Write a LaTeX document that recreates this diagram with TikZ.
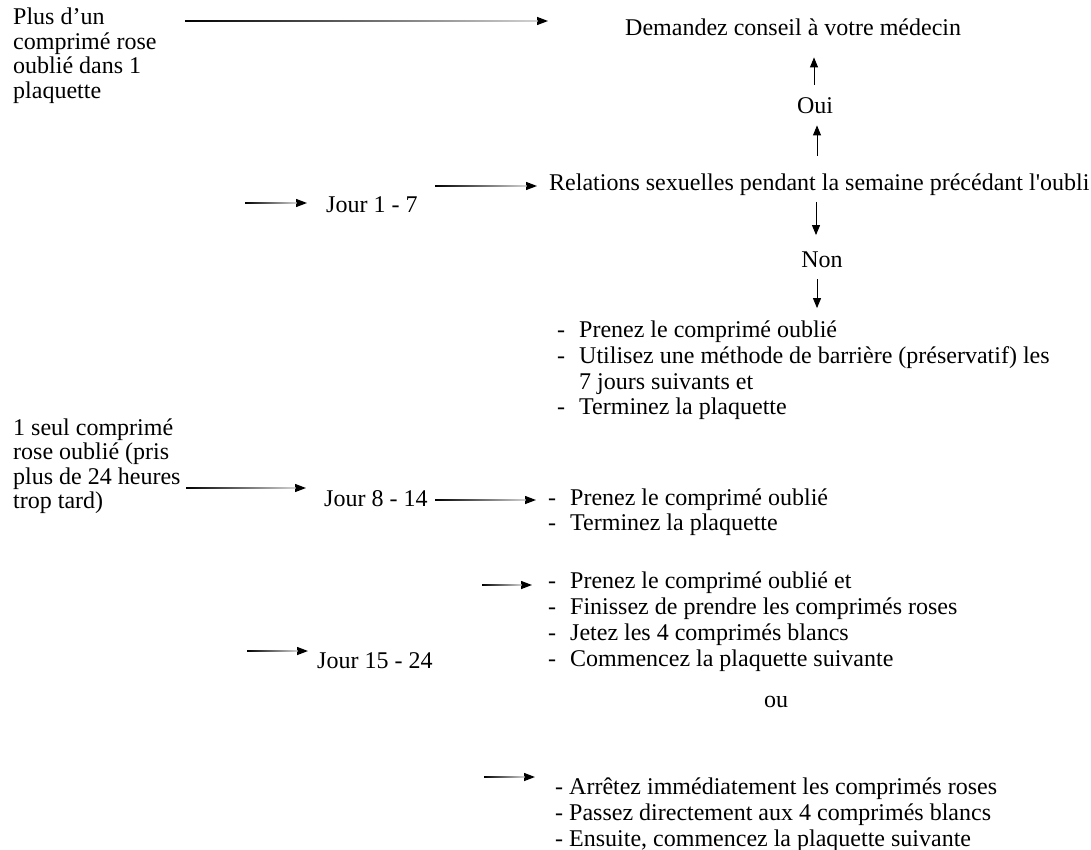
\documentclass[tikz,border=0pt]{standalone}
\usepackage{fontspec}
\setmainfont{Liberation Serif}[Ligatures=TeXOff]
\usetikzlibrary{arrows.meta,calc}
\begin{document}
\begin{tikzpicture}[x=1pt,y=-1pt,
  txt/.style={anchor=base west, inner sep=0pt, font=\fontsize{24}{27}\selectfont},
  ctxt/.style={anchor=base, inner sep=0pt, font=\fontsize{24}{27}\selectfont},
  harrow/.style={-{Triangle[length=11pt,width=8pt]}, line width=1.3pt},
  fadeline/.style={left color=black, middle color=black, right color=black!18},
  varrow/.style={-{Triangle[length=10pt,width=8pt]}, line width=0.9pt}]
\newcommand{\dsh}{\makebox[22pt][l]{-}}
\newcommand{\harr}[2]{%
  \draw[harrow] (#1) -- (#2);
  \shade[fadeline] ($(#1)+(0,-0.65)$) rectangle ($(#2)+(-10.5,0.65)$);}
\fill[white] (0,0) rectangle (1091,850);
\useasboundingbox (0,0) rectangle (1091,850);
% left block 1
\node[txt] (b1a) at (13,25) {Plus d’un};
\node[txt] (b1b) at (13,49.5) {comprimé rose};
\node[txt] (b1c) at (13,74) {oublié dans 1};
\node[txt] (b1d) at (13,98.5) {plaquette};
% top right column
\node[txt] (med) at (625,36) {Demandez conseil à votre médecin};
\node[ctxt] (oui) at (815,114) {Oui};
\node[txt] (rel) at (549,191) {Relations sexuelles pendant la semaine précédant l'oubli};
\node[ctxt] (non) at (822,267) {Non};
\node[txt] (j17) at (326,213) {Jour 1 - 7};
% list 1
\node[txt] (l1a) at (557,337) {\dsh Prenez le comprimé oublié};
\node[txt] (l1b) at (557,363) {\dsh Utilisez une méthode de barrière (préservatif) les};
\node[txt] (l1c) at (579,389) {7 jours suivants et};
\node[txt] (l1d) at (557,414) {\dsh Terminez la plaquette};
% left block 2
\node[txt] (b2a) at (13,435) {1 seul comprimé};
\node[txt] (b2b) at (13,459.5) {rose oublié (pris};
\node[txt] (b2c) at (13,484) {plus de 24 heures};
\node[txt] (b2d) at (13,508.5) {trop tard)};
\node[txt] (j814) at (324,506) {Jour 8 - 14};
% list 2
\node[txt] (l2a) at (548,505) {\dsh Prenez le comprimé oublié};
\node[txt] (l2b) at (548,530) {\dsh Terminez la plaquette};
% jour 15-24
\node[txt] (j1524) at (317,668) {Jour 15 - 24};
% list 3
\node[txt] (l3a) at (548,588) {\dsh Prenez le comprimé oublié et};
\node[txt] (l3b) at (548,614) {\dsh Finissez de prendre les comprimés roses};
\node[txt] (l3c) at (548,640) {\dsh Jetez les 4 comprimés blancs};
\node[txt] (l3d) at (548,666) {\dsh Commencez la plaquette suivante};
\node[ctxt] (ou) at (776,707) {ou};
% list 4
\node[txt] (l4a) at (555,794) {- Arrêtez immédiatement les comprimés roses};
\node[txt] (l4b) at (555,820) {- Passez directement aux 4 comprimés blancs};
\node[txt] (l4c) at (555,846) {- Ensuite, commencez la plaquette suivante};
% connector ends
\coordinate (a1s) at (185,21);
\coordinate (a1t) at (548,21);
\coordinate (u1s) at (814,85);
\coordinate (u2s) at (817,156);
\coordinate (d1s) at (816,202);
\coordinate (d2s) at (817,279);
\coordinate (j17i) at (245,203);
\coordinate (j17o) at (435,186);
\coordinate (b2o) at (186,488);
\coordinate (j814o) at (435,500);
\coordinate (l3i) at (482,585);
\coordinate (j1524i) at (247,651);
\coordinate (l4i) at (484,777);
\coordinate (j17it) at ($(j17i -| j17.west)+(-19,0)$);
\coordinate (j17ot) at ($(j17o -| rel.west)+(-12,0)$);
\coordinate (b2ot) at ($(b2o -| j814.west)+(-18,0)$);
\coordinate (j814ot) at ($(j814o -| l2a.west)+(-12,0)$);
\coordinate (l3it) at ($(l3i -| l3a.west)+(-16,0)$);
\coordinate (j1524it) at ($(j1524i -| j1524.west)+(-9,0)$);
\coordinate (l4it) at ($(l4i -| l4a.west)+(-20,0)$);
% connectors
\harr{a1s}{a1t}
\draw[varrow, shorten >=21pt] (u1s) -- (u1s |- med.south);
\draw[varrow, shorten >=11pt] (u2s) -- (u2s |- oui.south);
\draw[varrow, shorten >=16pt] (d1s) -- (d1s |- non.north);
\draw[varrow, shorten >=12pt] (d2s) -- (d2s |- l1a.north);
\harr{j17i}{j17it}
\harr{j17o}{j17ot}
\harr{b2o}{b2ot}
\harr{j814o}{j814ot}
\harr{l3i}{l3it}
\harr{j1524i}{j1524it}
\harr{l4i}{l4it}
\end{tikzpicture}
\end{document}
